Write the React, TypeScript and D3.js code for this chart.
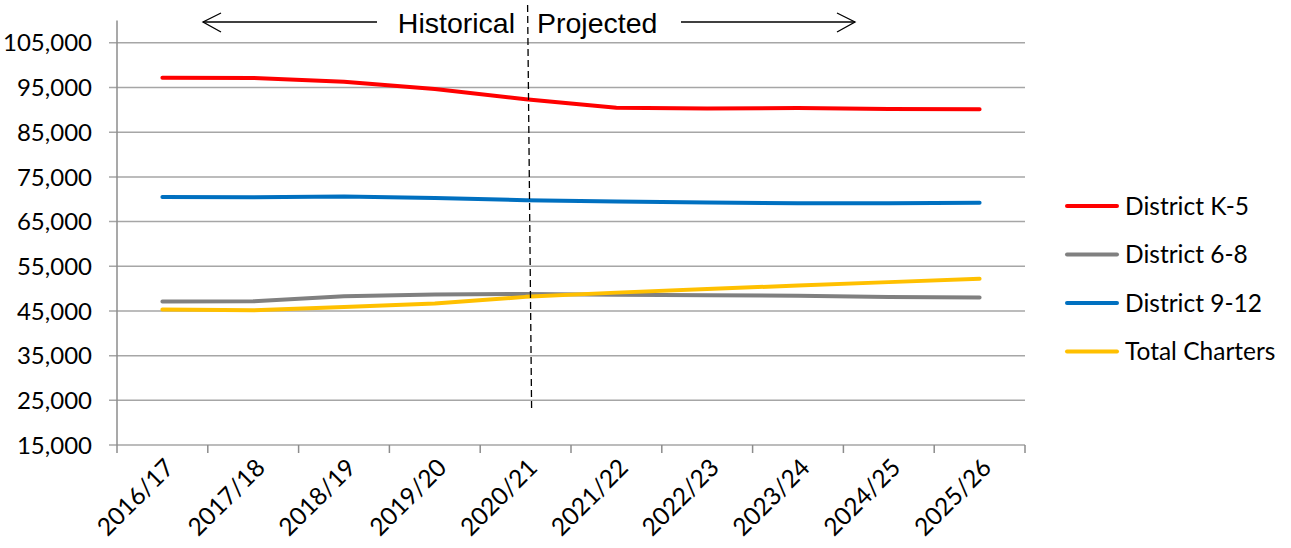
import React, { useRef, useEffect } from "react";
import { scaleLinear, scalePoint, select, line, range, format } from "d3";

const years = [
  "2016/17", "2017/18", "2018/19", "2019/20", "2020/21",
  "2021/22", "2022/23", "2023/24", "2024/25", "2025/26",
];
const districtK5 = [97200, 97150, 96300, 94650, 92400, 90500, 90300, 90400, 90200, 90150];
const district68 = [47100, 47150, 48300, 48700, 48800, 48650, 48500, 48400, 48100, 48000];
const district912 = [70500, 70450, 70600, 70300, 69800, 69500, 69250, 69100, 69100, 69200];
const totalCharters = [45350, 45150, 45900, 46650, 48150, 49100, 49900, 50700, 51450, 52200];
const yTicks = [15000, 25000, 35000, 45000, 55000, 65000, 75000, 85000, 95000, 105000];

const series = [
  { name: "District K-5", values: districtK5, color: "#ff0000" },
  { name: "District 6-8", values: district68, color: "#808080" },
  { name: "District 9-12", values: district912, color: "#0070c0" },
  { name: "Total Charters", values: totalCharters, color: "#ffc000" },
];

const W = 1291;
const H = 548;
const FONT = "Lato, 'Open Sans', sans-serif";

const App = () => {
  const svgRef = useRef<SVGSVGElement>(null);

  useEffect(() => {
    const svg = select(svgRef.current);
    svg.selectAll("*").remove();

    const left = 117;
    const right = 1025;
    const top = 20.5;
    const bottom = 445;

    const x = scalePoint<string>().domain(years).range([left, right]).padding(0.5);
    const y = scaleLinear().domain([15000, 110000]).range([bottom, top]);
    const step = x.step();
    const fmt = format(",");

    // gridlines
    svg.append("g")
      .selectAll("line")
      .data(yTicks)
      .join("line")
      .attr("x1", left - 8)
      .attr("x2", right)
      .attr("y1", (d) => y(d))
      .attr("y2", (d) => y(d))
      .attr("stroke", "#a6a6a6")
      .attr("stroke-width", 1.5);

    // y axis line
    svg.append("line")
      .attr("x1", left).attr("x2", left)
      .attr("y1", top).attr("y2", bottom)
      .attr("stroke", "#8c8c8c").attr("stroke-width", 1.5);

    // x tick marks
    svg.append("g")
      .selectAll("line")
      .data(range(years.length + 1))
      .join("line")
      .attr("x1", (i) => left + i * step)
      .attr("x2", (i) => left + i * step)
      .attr("y1", bottom)
      .attr("y2", bottom + 8)
      .attr("stroke", "#8c8c8c")
      .attr("stroke-width", 1.5);

    // y labels
    svg.append("g")
      .selectAll("text")
      .data(yTicks)
      .join("text")
      .attr("x", 92)
      .attr("y", (d) => y(d))
      .attr("dy", "0.36em")
      .attr("text-anchor", "end")
      .attr("font-family", FONT)
      .attr("font-size", 24)
      .attr("fill", "#000")
      .text((d) => fmt(d));

    // x labels
    svg.append("g")
      .selectAll("text")
      .data(years)
      .join("text")
      .attr("transform", (d) => `translate(${(x(d) as number) + 7},${bottom + 18}) rotate(-45)`)
      .attr("dy", "0.36em")
      .attr("text-anchor", "end")
      .attr("font-family", FONT)
      .attr("font-size", 24.5)
      .attr("fill", "#000")
      .text((d) => d);

    // series
    const lineGen = line<number>()
      .x((_, i) => x(years[i]) as number)
      .y((d) => y(d));

    svg.append("g")
      .selectAll("path")
      .data(series)
      .join("path")
      .attr("d", (s) => lineGen(s.values))
      .attr("fill", "none")
      .attr("stroke", (s) => s.color)
      .attr("stroke-width", 4)
      .attr("stroke-linecap", "round")
      .attr("stroke-linejoin", "round");

    // historical / projected divider
    const divX = (x(years[4]) as number) + 2;
    svg.append("line")
      .attr("x1", divX).attr("x2", divX + 4)
      .attr("y1", 5).attr("y2", y(23000))
      .attr("stroke", "#000")
      .attr("stroke-width", 1.3)
      .attr("stroke-dasharray", "7,4");

    const ann = svg.append("g").attr("font-family", "'Liberation Sans', Arial, sans-serif").attr("font-size", 28.5);
    ann.append("text").attr("x", 515).attr("y", 33).attr("text-anchor", "end").text("Historical");
    ann.append("text").attr("x", 537).attr("y", 33).text("Projected");

    const arrows = svg.append("g").attr("stroke", "#000").attr("stroke-width", 1.3).attr("fill", "none");
    arrows.append("line").attr("x1", 203).attr("x2", 377).attr("y1", 22).attr("y2", 22);
    arrows.append("path").attr("d", "M221,13 L203,22 L221,32");
    arrows.append("line").attr("x1", 681).attr("x2", 855).attr("y1", 22).attr("y2", 22);
    arrows.append("path").attr("d", "M837,13 L855,22 L837,32");

    // legend
    const legend = svg.append("g")
      .selectAll("g")
      .data(series)
      .join("g")
      .attr("transform", (_, i) => `translate(1067,${206 + i * 48.5})`);
    legend.append("line")
      .attr("x1", 0).attr("x2", 50)
      .attr("stroke", (s) => s.color)
      .attr("stroke-width", 4)
      .attr("stroke-linecap", "round");
    legend.append("text")
      .attr("x", 58)
      .attr("dy", "0.36em")
      .attr("font-family", FONT)
      .attr("font-size", 24.5)
      .attr("fill", "#000")
      .text((s) => s.name);
  }, []);

  return (
    <svg
      ref={svgRef}
      width={W}
      height={H}
      viewBox={`0 0 ${W} ${H}`}
      style={{ position: "absolute", left: 0, top: 0, background: "#fff" }}
    />
  );
};

export default App;
